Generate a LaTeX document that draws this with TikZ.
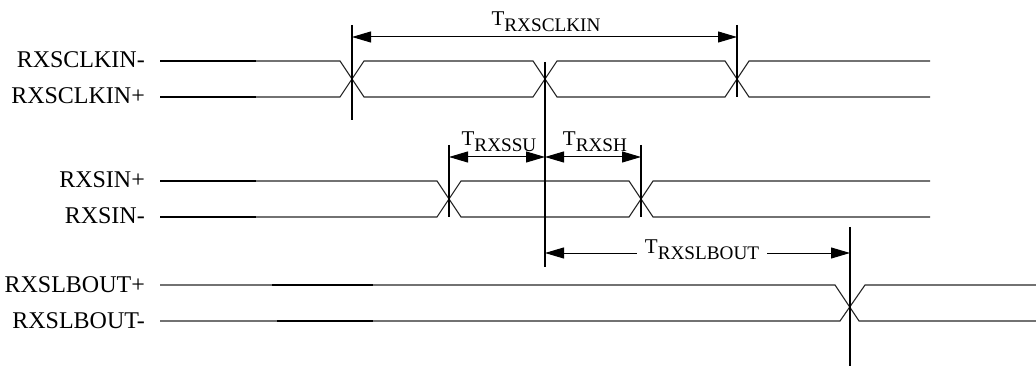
\documentclass[tikz,border=0pt]{standalone}
\usepackage{fontspec}
\setmainfont{Liberation Serif}
\usepackage{tikz}
\usetikzlibrary{arrows.meta}
\newcommand{\tsub}[1]{T\raisebox{-6pt}{\fontsize{19.2}{20}\selectfont #1}}
\tikzset{
  sig/.style={draw=black!85, line width=1.1pt, line join=miter},
  drv/.style={draw=black, line width=1.8pt},
  vmark/.style={draw=black, line width=1.2pt},
  dim/.style={draw=black, line width=1pt, {Triangle[length=19pt,width=11pt]}-{Triangle[length=19pt,width=11pt]}},
  sname/.style={font=\fontsize{24}{28}\selectfont, anchor=base east, inner sep=0pt},
  tname/.style={font=\fontsize{21}{24}\selectfont, anchor=base, inner sep=0pt},
}

\begin{document}
\begin{tikzpicture}[x=1pt, y=-1pt]
  \useasboundingbox (0,0) rectangle (1036,366);
  \def\d{12}
  % signal names
  \node[sname] (nck-) at (145,68) {RXSCLKIN-};
  \node[sname] (nck+) at (145,104) {RXSCLKIN+};
  \node[sname] (nin+) at (145,188) {RXSIN+};
  \node[sname] (nin-) at (145,224) {RXSIN-};
  \node[sname] (nlb+) at (145,292) {RXSLBOUT+};
  \node[sname] (nlb-) at (145,328) {RXSLBOUT-};
  % clock pair
  \draw[sig] (160,61) -- (352-\d,61) -- (352+\d,97) -- (545-\d,97) -- (545+\d,61)
    -- (737-\d,61) -- (737+\d,97) -- (930,97);
  \draw[sig] (160,97) -- (352-\d,97) -- (352+\d,61) -- (545-\d,61) -- (545+\d,97)
    -- (737-\d,97) -- (737+\d,61) -- (930,61);
  \draw[drv] (160,61) -- (256,61);
  \draw[drv] (160,97) -- (256,97);
  % data pair
  \draw[sig] (160,181) -- (449-\d,181) -- (449+\d,217) -- (641-\d,217) -- (641+\d,181) -- (930,181);
  \draw[sig] (160,217) -- (449-\d,217) -- (449+\d,181) -- (641-\d,181) -- (641+\d,217) -- (930,217);
  \draw[drv] (160,181) -- (256,181);
  \draw[drv] (160,217) -- (256,217);
  % loopback pair
  \draw[sig] (160,285) -- (835,285) -- (859,321) -- (1036,321);
  \draw[sig] (160,321) -- (840,321) -- (865,285) -- (1036,285);
  \draw[drv] (272,285) -- (373,285);
  \draw[drv] (277,321) -- (373,321);
  % edge markers
  \draw[vmark] (352,25) -- (352,120);
  \draw[vmark] (545,62) -- (545,267);
  \draw[vmark] (737,25) -- (737,97);
  \draw[vmark] (449,145) -- (449,217);
  \draw[vmark] (641,145) -- (641,217);
  \draw[vmark] (850,227) -- (850,366);
  % timing arrows
  \coordinate (ck1) at (352,37);
  \coordinate (ck3) at (737,37);
  \coordinate (su1) at (449,157);
  \coordinate (su2) at (545,157);
  \coordinate (sh2) at (641,157);
  \coordinate (lb1) at (545,253);
  \coordinate (lb2) at (850,253);
  \draw[dim] (ck1) -- (ck3);
  \draw[dim] (su1) -- (su2);
  \draw[dim] (su2) -- (sh2);
  \draw[dim] (lb1) -- node[tname, pos=0.515, fill=white, inner xsep=8pt] (tlb) {\tsub{RXSLBOUT}} (lb2);
  \node[tname] (tck) at (546,26) {\tsub{RXSCLKIN}};
  \node[tname] (tsu) at (499,146) {\tsub{RXSSU}};
  \node[tname] (tsh) at (595,146) {\tsub{RXSH}};
\end{tikzpicture}
\end{document}
